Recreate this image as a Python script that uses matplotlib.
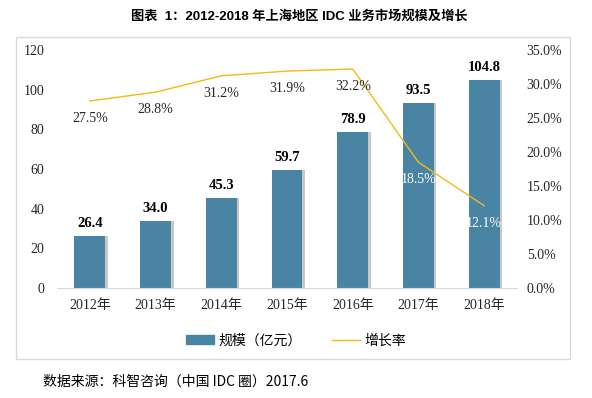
import matplotlib.pyplot as plt
from matplotlib.patches import Rectangle
from matplotlib.lines import Line2D
from matplotlib.ticker import PercentFormatter

plt.rcParams['font.family'] = ['Liberation Serif', 'Noto Sans CJK SC']

years = ['2012年', '2013年', '2014年', '2015年', '2016年', '2017年', '2018年']
scale = [26.4, 34.0, 45.3, 59.7, 78.9, 93.5, 104.8]
growth = [0.275, 0.288, 0.312, 0.319, 0.322, 0.185, 0.121]

bar_color = '#4a84a4'
line_color = '#f5b914'
text_color = '#262626'

fig = plt.figure(figsize=(5.92, 3.98), dpi=100)
ax = fig.add_axes([0.0963, 0.2764, 0.777, 0.598])
ax2 = ax.twinx()

x = range(len(years))
# slight shadow behind bars
ax.bar([i + 0.04 for i in x], scale, width=0.47, color='#c8c8c8', zorder=1)
ax.bar(x, scale, width=0.47, color=bar_color, zorder=2)
for i, v in enumerate(scale):
    ax.text(i, v + 3, f'{v:.1f}', ha='center', va='bottom', fontsize=10.5,
            fontweight='bold', color='black')

ax.set_ylim(0, 120)
ax.set_yticks(range(0, 121, 20))
ax.set_xlim(-0.5, len(years) - 0.5)
ax.set_xticks(list(x))
ax.set_xticklabels(years)

ax2.plot(list(x), growth, color=line_color, lw=1.0, zorder=3)
ax2.set_ylim(0, 0.35)
ax2.set_yticks([i * 0.05 for i in range(8)])
ax2.yaxis.set_major_formatter(PercentFormatter(1.0, decimals=1))
for i, g in enumerate(growth):
    col = 'white' if i >= 5 else text_color
    ax2.text(i, g - 0.016, f'{g * 100:.1f}%', ha='center', va='top',
             fontsize=10, color=col, zorder=4)

for a in (ax, ax2):
    for s in ('top', 'left', 'right', 'bottom'):
        a.spines[s].set_visible(False)
    a.tick_params(length=0, labelsize=10, colors=text_color)
ax.spines['bottom'].set_visible(True)
ax.spines['bottom'].set_color('#d9d9d9')
ax.tick_params(axis='y', pad=9)
ax.tick_params(axis='x', pad=8)
ax2.tick_params(axis='y', pad=7)

fig.text(0.505, 0.958, '图表  1：2012-2018 年上海地区 IDC 业务市场规模及增长',
         ha='center', va='center', fontsize=9.5, fontweight='bold',
         family=['Liberation Sans', 'Noto Sans CJK SC'])

fig.patches.append(Rectangle((0.027, 0.098), 0.936, 0.81, transform=fig.transFigure,
                             fill=False, edgecolor='#d9d9d9', lw=1))

handles = [Rectangle((0, 0), 1, 1, color=bar_color),
           Line2D([], [], color=line_color, lw=1)]
fig.legend(handles, ['规模（亿元）', '增长率'], loc='center', bbox_to_anchor=(0.5, 0.145),
           ncol=2, frameon=False, handlelength=2.0, handleheight=0.6, handletextpad=0.3,
           columnspacing=2.2, prop={'family': ['Noto Sans CJK SC'], 'size': 10})

fig.text(0.073, 0.04, '数据来源：科智咨询（中国 IDC 圈）2017.6', ha='left', va='center',
         fontsize=10, family=['Noto Sans CJK SC', 'Liberation Serif'])

fig.savefig('out.png', dpi=100)
